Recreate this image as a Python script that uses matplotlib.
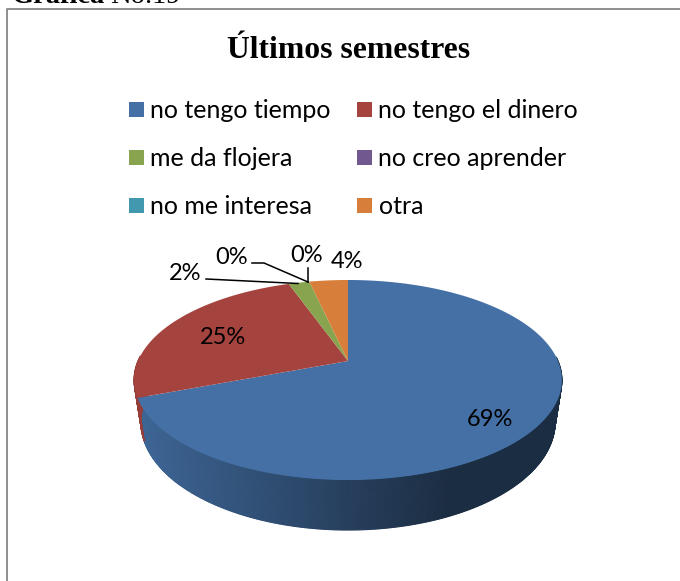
import numpy as np
import matplotlib
matplotlib.use('Agg')
import matplotlib.pyplot as plt
from matplotlib.patches import Rectangle

labels = ['no tengo tiempo', 'no tengo el dinero', 'me da flojera',
          'no creo aprender', 'no me interesa', 'otra']
values = [69.2, 25.4, 1.9, 0, 0, 3.5]
colors = ['#4470A5', '#A5443F', '#88A44E', '#71588F', '#4198AF', '#D77E3A']

fig = plt.figure(figsize=(6.8, 5.81), dpi=100)
ax = fig.add_axes([0, 0, 1, 1])
ax.set_xlim(0, 680)
ax.set_ylim(581, 0)
ax.axis('off')


# pie is a tilted disc, so the centre sits above the middle of the ellipse
def rim(theta):
    u = np.sin(theta)
    v = np.cos(theta)
    w = 1 + 0.19 * v
    return 348 + 210 * u / w, 361 - 96.4 * v / w


def lower(x, y):
    return 348 + 0.968 * (x - 348), 422 + 1.08 * (y - 380)


edges = np.cumsum([0] + values) / sum(values) * 2 * np.pi

# side wall first, back of the disc is hidden anyway
for i in range(len(values)):
    if values[i] == 0:
        continue
    t = np.linspace(edges[i], edges[i + 1], max(int(values[i] * 8), 2))
    for a, b in zip(t[:-1], t[1:]):
        if np.cos(a) > 0.05:
            continue
        xa, ya = rim(a)
        xb, yb = rim(b)
        xc, yc = lower(xb, yb)
        xd, yd = lower(xa, ya)
        # dark on the right, lighter to the left
        f = np.clip((xa - 140) / 310, 0, 1)
        base = np.array(matplotlib.colors.to_rgb(colors[i]))
        shade = base * (0.9 - 0.5 * f)
        ax.fill([xa, xb, xc, xd], [ya, yb, yc, yd], color=shade, lw=0.8, zorder=1)

# top face
for i in range(len(values)):
    if values[i] == 0:
        continue
    t = np.linspace(edges[i], edges[i + 1], max(int(values[i] * 8), 4))
    x, y = rim(t)
    ax.fill(np.r_[348, x], np.r_[361, y], color=colors[i], lw=0, zorder=2)

# value labels
pct = [f'{v:.0f}%' for v in values]
label_pos = [(490, 419), (223, 337), (185, 274), (232, 257), (307, 256), (347, 261)]
for s, p in zip(pct, label_pos):
    ax.text(p[0], p[1], s, fontsize=17, family='Lato', ha='center', va='center', color='black', zorder=4)

# leader lines
ax.plot([206, 298], [279, 283.5], color='black', lw=1.1, zorder=3)
ax.plot([252, 264, 308], [263, 263, 282], color='black', lw=1.1, zorder=3)
ax.plot([308, 308], [268, 282], color='black', lw=1.1, zorder=3)

# legend
leg_x = [129, 357, 129, 357, 129, 357]
leg_y = [109.5, 109.5, 157.5, 157.5, 205.5, 205.5]
for name, c, x, y in zip(labels, colors, leg_x, leg_y):
    ax.add_patch(Rectangle((x, y - 7.5), 15, 15, color=c, lw=0))
    ax.text(x + 21.5, y + 1, name, fontsize=18, family='Lato', va='center', color='black')

ax.text(348.5, 50.5, 'Últimos semestres', fontsize=22.8, fontweight='bold',
        family='Liberation Serif', ha='center', va='center', color='black')

# heading cut by the page top
ax.text(12, 3, 'Gráfica', fontsize=20.5, fontweight='bold', family='Liberation Serif', va='baseline')
ax.text(110, 3, 'No.19', fontsize=20.5, family='Liberation Serif', va='baseline')

# frame
ax.plot([6.5, 6.5, 680], [581, 8.5, 8.5], color='#868686', lw=1.3, zorder=5)

fig.savefig('out.png', dpi=100)
